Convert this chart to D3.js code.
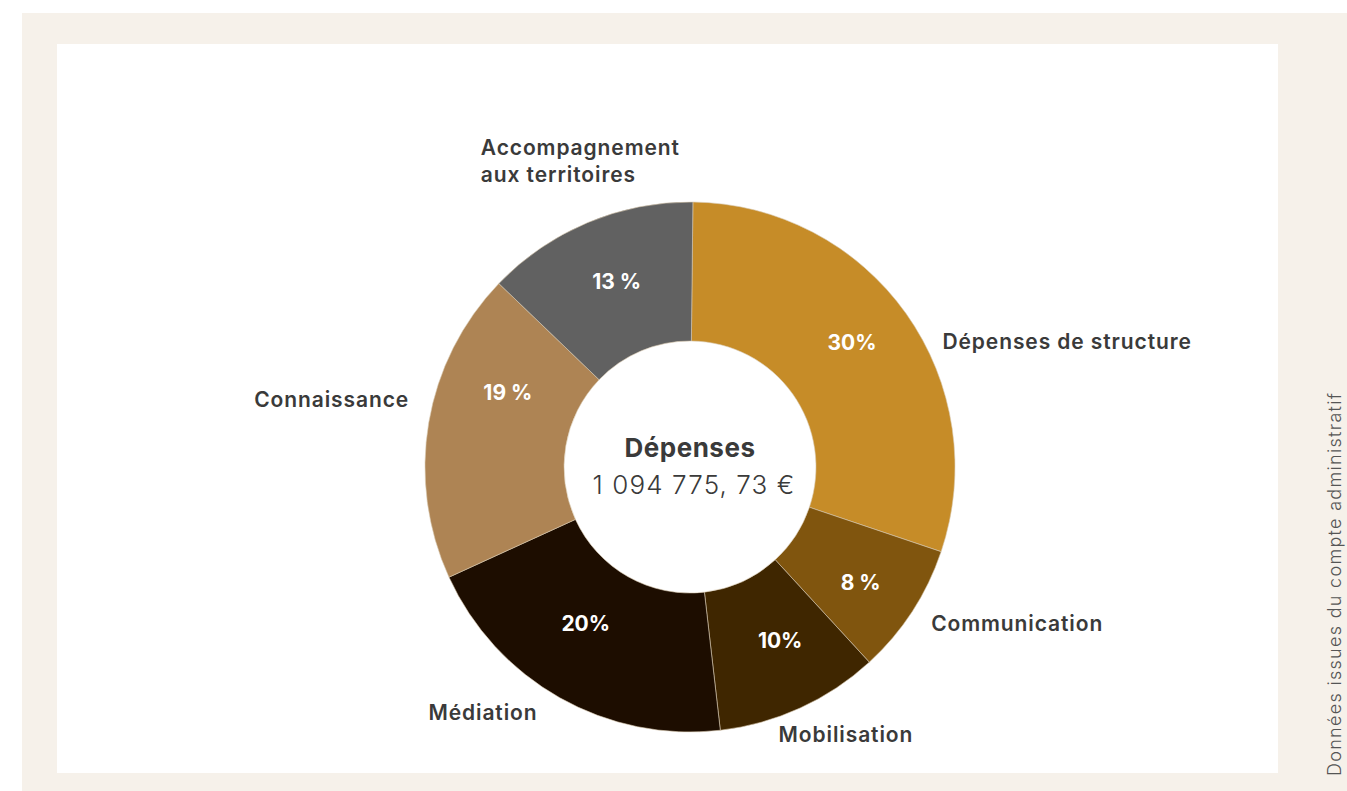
<!DOCTYPE html>
<html>

<head>
  <meta charset="utf-8">
  <title>Dépenses</title>
  <script type="text/javascript" src="https://cdn.jsdelivr.net/npm/d3@7"></script>
  <style>
    body {
      margin: 0;
      background-color: #ffffff;
    }
    svg {
      display: block;
      font-family: "Inter", "Noto Sans", sans-serif;
    }
  </style>
</head>

<body>
  <script type="text/javascript">

    // Données
    const categories = ["Dépenses de structure", "Communication", "Mobilisation", "Médiation", "Connaissance", "Accompagnement aux territoires"];
    const parts = [30, 8, 10, 20, 19, 13];
    const pctLabels = ["30%", "8 %", "10%", "20%", "19 %", "13 %"];
    const couleurs = ["#c68c28", "#80550e", "#3f2600", "#1d0d00", "#ae8454", "#616161"];
    const titre = "Dépenses";
    const total = "1 094 775, 73 €";
    const source = "Données issues du compte administratif";

    const w = 1347;
    const h = 791;
    const cx = 690, cy = 467;
    const rOuter = 265, rInner = 126;

    const svg = d3.select("body")
      .append("svg")
      .attr("width", w)
      .attr("height", h);

    // fonds
    svg.append("rect").attr("x", 22).attr("y", 13).attr("width", w - 22).attr("height", h - 13).attr("fill", "#f6f1ea");
    svg.append("rect").attr("x", 57).attr("y", 44).attr("width", 1221).attr("height", 729).attr("fill", "#ffffff");

    const data = categories.map(function (c, i) {
      return { nom: c, valeur: parts[i], pct: pctLabels[i], couleur: couleurs[i] };
    });

    const pie = d3.pie().sort(null).value(function (d) { return d.valeur; })
      .startAngle(0.011).endAngle(0.011 + 2 * Math.PI);
    const arcs = pie(data);

    const arc = d3.arc().innerRadius(rInner).outerRadius(rOuter);
    const pctArc = d3.arc().innerRadius(200).outerRadius(200);
    const outArc = d3.arc().innerRadius(290).outerRadius(290);

    const g = svg.append("g").attr("transform", "translate(" + cx + "," + cy + ")");

    g.selectAll("path")
      .data(arcs)
      .enter()
      .append("path")
      .attr("d", arc)
      .attr("fill", function (d) { return d.data.couleur; })
      .attr("stroke", "#d9c9b0")
      .attr("stroke-width", 0.6);

    // petits ajustements de placement des étiquettes
    const pctNudge = [[-1, -9], [3, 7], [7, -8], [-6, -18], [15, -41], [4, -1]];
    const outNudge = [
      { a: "start", dx: 16, dy: 50 },
      { a: "start", dx: -2, dy: 6 },
      { a: "start", dx: -32, dy: 11 },
      { a: "end", dx: -10, dy: 0 },
      { a: "end", dx: 5, dy: -12 },
      { a: "start", dx: -97, dy: -45 }
    ];

    g.selectAll("text.pct")
      .data(arcs)
      .enter()
      .append("text")
      .attr("class", "pct")
      .attr("x", function (d, i) { return pctArc.centroid(d)[0] + pctNudge[i][0]; })
      .attr("y", function (d, i) { return pctArc.centroid(d)[1] + pctNudge[i][1]; })
      .attr("dy", "0.35em")
      .attr("text-anchor", "middle")
      .attr("fill", "#ffffff")
      .attr("font-size", 21)
      .attr("font-weight", 700)
      .text(function (d) { return d.data.pct; });

    const labels = g.selectAll("text.cat")
      .data(arcs)
      .enter()
      .append("text")
      .attr("class", "cat")
      .attr("x", function (d, i) { return outArc.centroid(d)[0] + outNudge[i].dx; })
      .attr("y", function (d, i) { return outArc.centroid(d)[1] + outNudge[i].dy; })
      .attr("text-anchor", function (d, i) { return outNudge[i].a; })
      .attr("fill", "#3a3a3a")
      .attr("font-size", 21)
      .attr("letter-spacing", 0.9)
      .attr("font-weight", 600);

    labels.each(function (d) {
      const t = d3.select(this);
      const x = t.attr("x");
      const mots = d.data.nom === "Accompagnement aux territoires" ? ["Accompagnement", "aux territoires"] : [d.data.nom];
      mots.forEach(function (m, k) {
        t.append("tspan").attr("x", x).attr("dy", k === 0 ? 0 : 27).text(m);
      });
    });

    // centre
    g.append("text")
      .attr("y", -10)
      .attr("text-anchor", "middle")
      .attr("fill", "#3a3a3a")
      .attr("font-size", 26)
      .attr("letter-spacing", 0.5)
      .attr("font-weight", 700)
      .text(titre);
    g.append("text")
      .attr("x", 4)
      .attr("y", 27)
      .attr("text-anchor", "middle")
      .attr("fill", "#3a3a3a")
      .attr("font-size", 26)
      .attr("letter-spacing", 1.1)
      .attr("font-weight", 300)
      .text(total);

    // source verticale
    svg.append("text")
      .attr("transform", "translate(1341,776) rotate(-90)")
      .attr("text-anchor", "start")
      .attr("fill", "#555555")
      .attr("font-size", 18)
      .attr("letter-spacing", 1.3)
      .attr("font-weight", 300)
      .text(source);

  </script>
</body>

</html>
